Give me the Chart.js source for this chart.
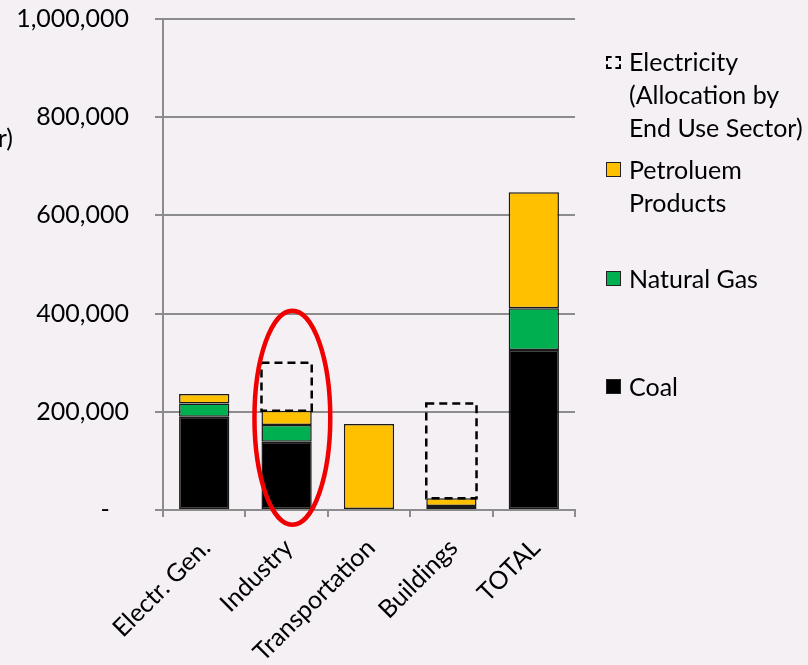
<!DOCTYPE html>
<html>
<head>
<meta charset="utf-8">
<script src="https://cdn.jsdelivr.net/npm/chart.js@4/dist/chart.umd.min.js"></script>
<style>
  html, body { margin: 0; padding: 0; background: #f4f0f4; overflow: hidden; }
  #wrap { position: relative; width: 808px; height: 665px; font-family: Lato, sans-serif; }
  #chart { position: absolute; left: 0; top: 0; }
  .ytitle { position: absolute; right: 795px; top: 122px; font-size: 25px; color: #000; white-space: nowrap; }
  #legend { position: absolute; left: 606px; top: 0; font-size: 25px; color: #000; }
  .item { position: absolute; left: 0; white-space: nowrap; }
  .mark { position: absolute; left: 0; width: 13px; height: 13px; border: 1.5px solid #222; }
  .mark.dash { border: 2px dashed #000; background: transparent; width: 11px; height: 9px; }
  .txt { position: absolute; left: 23px; line-height: 33px; }
</style>
</head>
<body>
<div id="wrap">
  <canvas id="chart" width="808" height="665"></canvas>
  <div class="ytitle">(tonnes CO2e/yr)</div>
  <div id="legend"></div>
</div>
<script>
// sectors and emissions per fuel
const sectors = ['Electr. Gen.', 'Industry', 'Transportation', 'Buildings', 'TOTAL'];
const coal = [190000, 139000, 0, 0, 326000];
const naturalGas = [27000, 34000, 0, 8000, 85000];
const petroleum = [19000, 29000, 175000, 16000, 236000];
const electricity = [0, 98000, 0, 193000, 0];
const yTicks = [0, 200000, 400000, 600000, 800000, 1000000];

const coalLabel = ['Coal'];
const gasLabel = ['Natural Gas'];
const petroleumLabel = ['Petroluem', 'Products'];
const electricityLabel = ['Electricity', '(Allocation by', 'End Use Sector)'];

// ring drawn around the industry column
const highlight = { index: 1, shift: 0.07, center: 188000, halfHeight: 218000, halfWidth: 0.46 };

const seg = {
  borderColor: '#1a1a1a',
  borderWidth: 1.5,
  borderSkipped: false,
  stack: 's'
};

const datasets = [
  Object.assign({ label: coalLabel, data: coal, backgroundColor: '#000000' }, seg),
  Object.assign({ label: gasLabel, data: naturalGas, backgroundColor: '#00b050' }, seg),
  Object.assign({ label: petroleumLabel, data: petroleum, backgroundColor: '#ffc000' }, seg),
  { label: electricityLabel, data: electricity, backgroundColor: 'rgba(0,0,0,0)', borderWidth: 0, stack: 's', dashed: true }
];

// bars don't take a dash pattern, so outline them here
const dashedOutline = {
  id: 'dashedOutline',
  afterDatasetsDraw(chart) {
    const ctx = chart.ctx;
    chart.data.datasets.forEach((ds, i) => {
      if (!ds.dashed) return;
      chart.getDatasetMeta(i).data.forEach((bar, j) => {
        if (!ds.data[j]) return;
        const p = bar.getProps(['x', 'y', 'base', 'width'], true);
        ctx.save();
        ctx.setLineDash([8, 5]);
        ctx.lineWidth = 2.5;
        ctx.strokeStyle = '#000';
        ctx.strokeRect(p.x - p.width / 2, p.y, p.width, p.base - p.y);
        ctx.restore();
      });
    });
  }
};

const ring = {
  id: 'ring',
  afterDraw(chart) {
    const x = chart.scales.x, y = chart.scales.y;
    const step = x.getPixelForValue(1) - x.getPixelForValue(0);
    const cx = x.getPixelForValue(highlight.index) + step * highlight.shift;
    const cy = y.getPixelForValue(highlight.center);
    const ry = Math.abs(y.getPixelForValue(0) - y.getPixelForValue(highlight.halfHeight));
    const ctx = chart.ctx;
    ctx.save();
    ctx.beginPath();
    ctx.ellipse(cx, cy, step * highlight.halfWidth, ry, 0, 0, Math.PI * 2);
    ctx.lineWidth = 4.5;
    ctx.strokeStyle = '#f00000';
    ctx.stroke();
    ctx.restore();
  }
};

Chart.defaults.font.family = 'Lato, sans-serif';
Chart.defaults.color = '#000';

new Chart(document.getElementById('chart'), {
  type: 'bar',
  data: { labels: sectors, datasets: datasets },
  options: {
    responsive: false,
    animation: false,
    layout: { padding: { left: 0, right: 233, top: 19, bottom: 0 } },
    categoryPercentage: 1,
    barPercentage: 0.61,
    plugins: { legend: { display: false }, tooltip: { enabled: false } },
    scales: {
      x: {
        stacked: true,
        afterFit(s) { s.height = 155; },
        grid: { drawOnChartArea: false, color: '#8c8c8c', lineWidth: 2, tickLength: 7 },
        border: { color: '#8c8c8c', width: 2 },
        ticks: { font: { size: 25 }, maxRotation: 45, minRotation: 45, padding: 16, labelOffset: 2 }
      },
      y: {
        stacked: true,
        min: 0,
        max: 1000000,
        // tick padding would otherwise push the plot top down
        afterFit(s) { s.width = 163; s.paddingTop = 0; s.paddingBottom = 0; },
        afterBuildTicks(s) { s.ticks = yTicks.map(v => ({ value: v })); },
        grid: { color: '#8c8c8c', lineWidth: 2, tickLength: 8 },
        border: { color: '#8c8c8c', width: 2 },
        ticks: {
          font: { size: 25 },
          padding: 26,
          callback: v => v === 0 ? '-   ' : v.toLocaleString('en-US')
        }
      }
    }
  },
  plugins: [dashedOutline, ring]
});

// legend, top entry first
const legendEl = document.getElementById('legend');
const legendTops = [45, 153, 262, 370];
datasets.slice().reverse().forEach((ds, i) => {
  const item = document.createElement('div');
  item.className = 'item';
  item.style.top = legendTops[i] + 'px';
  const mark = document.createElement('div');
  mark.className = 'mark' + (ds.dashed ? ' dash' : '');
  mark.style.top = ds.dashed ? '11px' : '9px';
  if (!ds.dashed) mark.style.background = ds.backgroundColor;
  const txt = document.createElement('div');
  txt.className = 'txt';
  txt.innerHTML = ds.label.join('<br>');
  item.appendChild(mark);
  item.appendChild(txt);
  legendEl.appendChild(item);
});
</script>
</body>
</html>
